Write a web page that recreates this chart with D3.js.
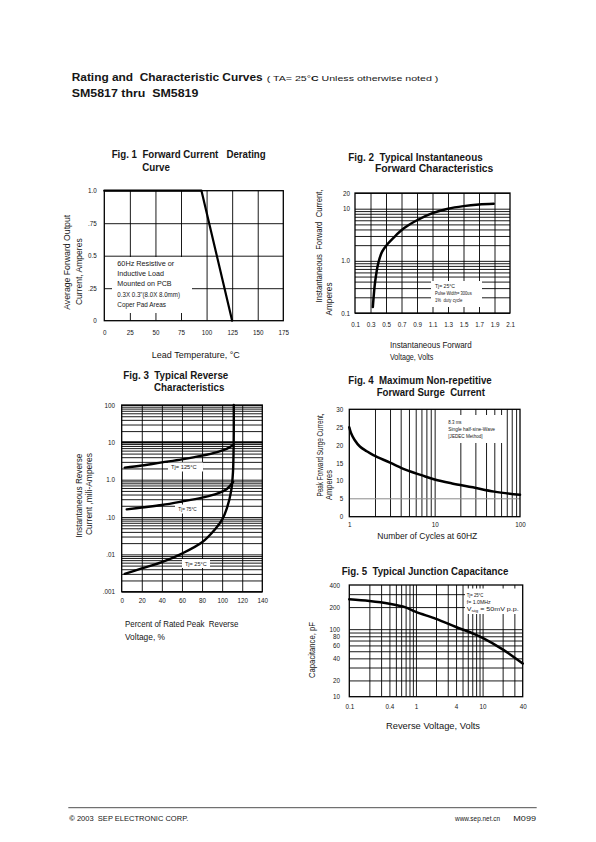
<!DOCTYPE html>
<html><head><meta charset="utf-8">
<script src="https://cdn.jsdelivr.net/npm/d3@7"></script>
<style>
html,body{margin:0;padding:0;background:#fff;}
svg{display:block;}
text{font-family:"Liberation Sans Narrow","Arial Narrow","Liberation Sans",Arial,sans-serif;fill:#161616;white-space:pre;}
text.b, tspan.b{font-family:"Liberation Sans",Arial,sans-serif;font-weight:bold;}
</style></head><body>
<svg id="c" width="596" height="842"></svg>
<script>
// ---------------- DATA ----------------
// Fig.1 Forward current derating
const fig1Temp = [0, 95, 125];
const fig1Current = [1.0, 1.0, 0];
const fig1XTicks = [0, 25, 50, 75, 100, 125, 150, 175];
const fig1YTicks = [0, 0.25, 0.5, 0.75, 1.0];
const fig1YLabels = ["0", ".25", "0.5", ".75", "1.0"];

// Fig.2 Typical instantaneous forward characteristics
const fig2Volts = [0.33, 0.34, 0.36, 0.40, 0.45, 0.52, 0.60, 0.73, 0.90, 1.10, 1.30, 1.50, 1.70, 1.89];
const fig2Amps  = [0.13, 0.20, 0.40, 0.90, 1.50, 2.10, 2.80, 4.20, 6.00, 8.20, 10.0, 11.2, 12.0, 12.4];
const fig2XTicks = [0.1, 0.3, 0.5, 0.7, 0.9, 1.1, 1.3, 1.5, 1.7, 1.9, 2.1];
const fig2YTicks = [0.1, 1, 10, 20];
const fig2YLabels = ["0.1", "1.0", "10", "20"];

// Fig.3 Typical reverse characteristics
const fig3Pct125 = [3, 20, 40, 60, 80, 95, 105, 111];
const fig3Ir125  = [2.1, 2.4, 2.9, 3.5, 4.4, 5.5, 6.8, 8.5];
const fig3Pct75  = [5, 20, 40, 60, 80, 95, 105, 111];
const fig3Ir75   = [0.16, 0.18, 0.21, 0.26, 0.33, 0.42, 0.57, 0.88];
const fig3Pct25  = [3, 20, 40, 60, 80, 93, 100, 105, 109, 110.8, 111.5, 111.6];
const fig3Ir25   = [0.003, 0.0042, 0.0062, 0.0105, 0.021, 0.047, 0.085, 0.18, 0.5, 1.6, 10, 100];
const fig3XTicks = [0, 20, 40, 60, 80, 100, 120, 140];
const fig3YTicks = [0.001, 0.01, 0.1, 1, 10, 100];
const fig3YLabels = [".001", ".01", ".10", "1.0", "10", "100"];

// Fig.4 Maximum non-repetitive forward surge current
const fig4Cycles = [1, 1.05, 1.15, 1.33, 1.6, 1.91, 3, 4.7, 7, 10, 16, 28, 50, 100];
const fig4Amps   = [25, 23.3, 21.5, 19.6, 18.3, 17.2, 15.1, 13.0, 11.6, 10.4, 9.3, 8.2, 7.0, 6.1];
const fig4XTicks = [1, 10, 100];
const fig4YTicks = [0, 5, 10, 15, 20, 25, 30];

// Fig.5 Typical junction capacitance
const fig5Volts = [0.1, 0.2, 0.4, 0.7, 1, 2, 4, 7, 10, 20, 40];
const fig5Cap   = [255, 242, 222, 198, 172, 138, 107, 88, 76, 53, 34];
const fig5XTicks = [0.1, 0.4, 1, 4, 10, 40];
const fig5XLabels = ["0.1", "0.4", "1", "4", "10", "40"];
const fig5YTicks = [12, 20, 40, 60, 80, 100, 200, 400];
const fig5YLabels = ["10", "20", "40", "60", "80", "100", "200", "400"];

// ---------------- DRAWING ----------------
const svg = d3.select("#c");

function txt(parent, x, y, s, o = {}) {
  const t = parent.append("text").attr("x", x).attr("y", y)
    .attr("font-size", o.size || 7).attr("text-anchor", o.anchor || "start");
  if (o.dy) t.attr("dy", o.dy);
  if (o.bold) t.attr("class", "b");
  if (o.w) t.attr("textLength", o.w).attr("lengthAdjust", "spacingAndGlyphs");
  if (o.rot) t.attr("transform", `rotate(-90 ${x} ${y})`);
  if (s !== null) t.text(s);
  return t;
}

function logMinors(lo, hi) {
  const out = [];
  for (let k = Math.floor(Math.log10(lo)); k <= Math.ceil(Math.log10(hi)); k++) {
    for (let m = 1; m <= 9; m++) {
      const v = +(m * Math.pow(10, k)).toPrecision(6);
      if (v >= lo * 0.9999 && v <= hi * 1.0001) out.push(v);
    }
  }
  return out;
}

function panel(o) {
  const x = o.x, y = o.y;
  const [x0, x1] = x.range(), [y0, y1] = y.range();
  const w = x1 - x0, h = y0 - y1;
  const g = svg.append("g");
  if (o.xGrid) {
    const gx = g.append("g").attr("transform", `translate(0,${y0})`)
      .call(d3.axisBottom(x).tickValues(o.xGrid).tickSize(-h).tickFormat(""));
    gx.select(".domain").remove();
    gx.selectAll("line").attr("stroke", "#000").attr("stroke-width", 0.9);
  }
  if (o.yGrid) {
    const gy = g.append("g").attr("transform", `translate(${x0},0)`)
      .call(d3.axisLeft(y).tickValues(o.yGrid).tickSize(-w).tickFormat(""));
    gy.select(".domain").remove();
    gy.selectAll("line").attr("stroke", "#000").attr("stroke-width", 0.9);
  }
  const xl = o.xLabels || o.xTicks.map(String);
  const lx = g.append("g").attr("transform", `translate(0,${y0})`)
    .call(d3.axisBottom(x).tickValues(o.xTicks).tickSize(0)
      .tickFormat(d => xl[o.xTicks.indexOf(d)]));
  lx.attr("font-family", null).attr("font-size", null);
  lx.select(".domain").remove();
  lx.selectAll("text").attr("y", o.xOff).attr("dy", "0.35em").attr("font-size", 6.3).attr("fill", "#161616");
  const yl = o.yLabels || o.yTicks.map(String);
  const ly = g.append("g").attr("transform", `translate(${x0},0)`)
    .call(d3.axisLeft(y).tickValues(o.yTicks).tickSize(0).tickPadding(o.yOff)
      .tickFormat(d => yl[o.yTicks.indexOf(d)]));
  ly.attr("font-family", null).attr("font-size", null);
  ly.select(".domain").remove();
  ly.selectAll("text").attr("font-size", 6.3).attr("fill", "#161616");
  return g;
}

function frame(g, x, y) {
  const [x0, x1] = x.range(), [y0, y1] = y.range();
  g.append("rect").attr("x", x0).attr("y", y1).attr("width", x1 - x0).attr("height", y0 - y1)
    .attr("fill", "none").attr("stroke", "#000").attr("stroke-width", 1.3);
}

function curve(g, x, y, xs, ys, sw, cv) {
  const pts = xs.map((d, i) => [d, ys[i]]);
  g.append("path").datum(pts)
    .attr("d", d3.line().x(d => x(d[0])).y(d => y(d[1])).curve(cv || d3.curveCatmullRom.alpha(0.5)))
    .attr("fill", "none").attr("stroke", "#000").attr("stroke-width", sw || 2.4)
    .attr("stroke-linejoin", "round").attr("stroke-linecap", "round");
}

function box(g, bx, by, bw, bh) {
  g.append("rect").attr("x", bx).attr("y", by).attr("width", bw).attr("height", bh).attr("fill", "#fff");
}

// ---- Header ----
txt(svg, 71.7, 80.7, "Rating and  Characteristic Curves", { bold: true, size: 11.5, w: 191 });
const sub = txt(svg, 266.7, 81, null, { size: 7.6, w: 171.6 });
sub.append("tspan").text("( TA= 25°");
sub.append("tspan").attr("class", "b").text("C");
sub.append("tspan").text(" Unless otherwise noted )");
txt(svg, 71.7, 96.7, "SM5817 thru  SM5819", { bold: true, size: 11.5, w: 126.7 });

// ---- Fig 1 ----
{
  const x = d3.scaleLinear([0, 175], [104.3, 283.3]);
  const y = d3.scaleLinear([0, 1], [320.7, 190.7]);
  const g = panel({ x, y, xGrid: [25, 50, 75, 100, 125, 150], yGrid: [0.25, 0.5, 0.75],
    xTicks: fig1XTicks, yTicks: fig1YTicks, yLabels: fig1YLabels, xOff: 12, yOff: 7.6 });
  box(g, 112, 257, 80, 56);
  const notes = ["60Hz Resistive or", "Inductive Load", "Mounted on PCB", "0.3X 0.3\"(8.0X 8.0mm)", "Coper Pad Areas"];
  const nw = [57, 46.7, 54.3, 62.7, 48.7];
  notes.forEach((s, i) => txt(g, 117.3, 265.7 + i * 10.3, s, { size: 7.3, w: nw[i] }));
  curve(g, x, y, fig1Temp, fig1Current, 2.2, d3.curveLinear);
  frame(g, x, y);
  txt(g, 111.7, 158.3, "Fig. 1  Forward Current   Derating", { bold: true, size: 10, w: 154 });
  txt(g, 142.3, 171, "Curve", { bold: true, size: 10, w: 27.7 });
  txt(g, 195.8, 355, "Lead Temperature, °C", { size: 9.5, anchor: "middle", dy: "0.35em", w: 88 });
  txt(g, 66.7, 262.3, "Average Forward Output", { size: 9.5, anchor: "middle", dy: "0.35em", w: 95, rot: true });
  txt(g, 78.3, 271.7, "Current, Amperes", { size: 9.5, anchor: "middle", dy: "0.35em", w: 66.7, rot: true });
}

// ---- Fig 2 ----
{
  const x = d3.scaleLinear([0.1, 2.1], [355, 510]);
  const y = d3.scaleLog([0.1, 20], [313, 193]);
  const g = panel({ x, y, xGrid: fig2XTicks.slice(1, -1), yGrid: logMinors(0.1, 20),
    xTicks: fig2XTicks, yTicks: fig2YTicks, yLabels: fig2YLabels, xOff: 12, yOff: 5 });
  box(g, 431, 281, 51, 26);
  txt(g, 435, 285.7, "Tj= 25°C", { size: 5.6, dy: "0.35em", w: 20 });
  txt(g, 435, 292.6, "Pulse Width= 300us", { size: 5.6, dy: "0.35em", w: 36.7 });
  txt(g, 435, 300, "1%  duty cycle", { size: 5.6, dy: "0.35em", w: 27.3 });
  curve(g, x, y, fig2Volts, fig2Amps, 2.5);
  frame(g, x, y);
  txt(g, 348.3, 160.5, "Fig. 2  Typical Instantaneous", { bold: true, size: 10, w: 134.4 });
  txt(g, 375, 172, "Forward Characteristics", { bold: true, size: 10, w: 118.3 });
  txt(g, 390, 344.3, "Instantaneous Forward", { size: 9.5, dy: "0.35em", w: 81.7 });
  txt(g, 390, 356.7, "Voltage, Volts", { size: 9.5, dy: "0.35em", w: 43.3 });
  txt(g, 318.3, 246, "Instantaneous  Forward  Current,", { size: 9.5, anchor: "middle", dy: "0.35em", w: 113, rot: true });
  txt(g, 329, 299, "Amperes", { size: 9.5, anchor: "middle", dy: "0.35em", w: 33, rot: true });
}

// ---- Fig 3 ----
{
  const x = d3.scaleLinear([0, 140], [121.7, 262.3]);
  const y = d3.scaleLog([0.001, 100], [591.7, 405]);
  const g = panel({ x, y, xGrid: fig3XTicks.slice(1, -1), yGrid: logMinors(0.001, 100),
    xTicks: fig3XTicks, yTicks: fig3YTicks, yLabels: fig3YLabels, xOff: 9, yOff: 6.7 });
  g.append("line").attr("x1", x(0)).attr("x2", x(140)).attr("y1", y(10)).attr("y2", y(10))
    .attr("stroke", "#000").attr("stroke-width", 2);
  box(g, 168, 462.5, 35, 9);
  box(g, 175, 504.5, 27, 9);
  box(g, 182, 559, 28, 9);
  curve(g, x, y, fig3Pct125, fig3Ir125, 2.4);
  curve(g, x, y, fig3Pct75, fig3Ir75, 2.4);
  curve(g, x, y, fig3Pct25, fig3Ir25, 2.4);
  txt(g, 171, 466.9, "Tj= 125°C", { size: 5.8, dy: "0.35em", w: 25.7 });
  txt(g, 178.3, 509, "Tj= 75°C", { size: 5.8, dy: "0.35em", w: 18.4 });
  txt(g, 185, 563.5, "Tj= 25°C", { size: 5.8, dy: "0.35em", w: 21.7 });
  frame(g, x, y);
  txt(g, 123.3, 379, "Fig. 3  Typical Reverse", { bold: true, size: 10, w: 105 });
  txt(g, 154, 391, "Characteristics", { bold: true, size: 10, w: 70.3 });
  txt(g, 125, 623.3, "Percent of Rated Peak  Reverse", { size: 9.5, dy: "0.35em", w: 113.3 });
  txt(g, 125, 636.7, "Voltage, %", { size: 9.5, dy: "0.35em", w: 40 });
  txt(g, 78.3, 495.7, "Instantaneous Reverse", { size: 9.5, anchor: "middle", dy: "0.35em", w: 84, rot: true });
  txt(g, 88.3, 494, "Current ,mili-Amperes", { size: 9.5, anchor: "middle", dy: "0.35em", w: 82, rot: true });
}

// ---- Fig 4 ----
{
  const x = d3.scaleLog([1, 100], [349.3, 520]);
  const y = d3.scaleLinear([0, 30], [516.7, 409.3]);
  const g = panel({ x, y, xGrid: logMinors(1, 100).slice(1, -1), yGrid: null,
    xTicks: fig4XTicks, yTicks: fig4YTicks, xOff: 8.3, yOff: 6 });
  g.append("line").attr("x1", x(1)).attr("x2", x(100)).attr("y1", y(5)).attr("y2", y(5))
    .attr("stroke", "#8a8a8a").attr("stroke-width", 1);
  box(g, 446, 415, 60, 28);
  txt(g, 448.3, 421.7, "8.3 ms", { size: 5.6, dy: "0.35em", w: 13.3 });
  txt(g, 448.3, 428.8, "Single half-sine-Wave", { size: 5.6, dy: "0.35em", w: 46.7 });
  txt(g, 448.3, 436, "[JEDEC Method]", { size: 5.6, dy: "0.35em", w: 34.3 });
  curve(g, x, y, fig4Cycles, fig4Amps, 2.5);
  frame(g, x, y);
  txt(g, 348.3, 384, "Fig. 4  Maximum Non-repetitive", { bold: true, size: 10, w: 143.4 });
  txt(g, 376.7, 396, "Forward Surge  Current", { bold: true, size: 10, w: 108.3 });
  txt(g, 427.3, 535.7, "Number of Cycles at 60HZ", { size: 9.5, anchor: "middle", dy: "0.35em", w: 100 });
  txt(g, 319.3, 455, "Peak Forward Surge Current,", { size: 9.5, anchor: "middle", dy: "0.35em", w: 83, rot: true });
  txt(g, 328.7, 485, "Amperes", { size: 9.5, anchor: "middle", dy: "0.35em", w: 30, rot: true });
}

// ---- Fig 5 ----
{
  const x = d3.scaleLog([0.1, 40], [349.3, 522.7]);
  const y = d3.scaleLog([12, 400], [696.7, 585]);
  const g = panel({ x, y, xGrid: logMinors(0.1, 40).slice(1, -1), yGrid: logMinors(12, 400).slice(0, -1),
    xTicks: fig5XTicks, xLabels: fig5XLabels, yTicks: fig5YTicks, yLabels: fig5YLabels, xOff: 10, yOff: 9.3 });
  box(g, 465, 588.5, 57.7, 25.5);
  txt(g, 466.7, 595, "Tj= 25°C", { size: 5.6, dy: "0.35em", w: 16.7 });
  txt(g, 466.7, 601.8, "f= 1.0MHz", { size: 5.6, dy: "0.35em", w: 24 });
  const vs = txt(g, 466.7, 609.3, null, { size: 5.6, dy: "0.35em", w: 52 });
  vs.append("tspan").text("V");
  vs.append("tspan").attr("font-size", 4.2).attr("dy", "1").text("sig");
  vs.append("tspan").attr("dy", "-1").text(" = 50mV p.p.");
  curve(g, x, y, fig5Volts, fig5Cap, 2.5);
  frame(g, x, y);
  txt(g, 341.7, 575, "Fig. 5  Typical Junction Capacitance", { bold: true, size: 10, w: 166.6 });
  txt(g, 433, 725.7, "Reverse Voltage, Volts", { size: 9.5, anchor: "middle", dy: "0.35em", w: 94 });
  txt(g, 312, 650, "Capacitance, pF", { size: 9.5, anchor: "middle", dy: "0.35em", w: 56, rot: true });
}

// ---- Footer ----
svg.append("line").attr("x1", 68.3).attr("x2", 536.7).attr("y1", 807.7).attr("y2", 807.7)
  .attr("stroke", "#222").attr("stroke-width", 0.8);
const ft = txt(svg, 69.3, 821, null, { size: 6.3, w: 119 });
ft.append("tspan").attr("class", "b").text("©");
ft.append("tspan").text(" 2003  SEP ELECTRONIC CORP.");
txt(svg, 455, 821, "www.sep.net.cn", { size: 6.3, w: 45 });
txt(svg, 513.3, 821, "M099", { size: 6.3, w: 22.7 });
</script>
</body></html>
